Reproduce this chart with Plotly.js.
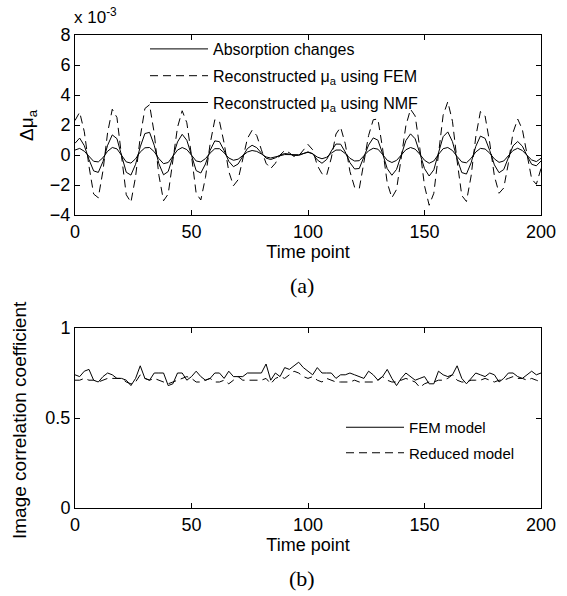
<!DOCTYPE html>
<html>
<head>
<meta charset="utf-8">
<script src="https://cdn.plot.ly/plotly-3.0.1.min.js"></script>
<style>html,body{margin:0;padding:0;background:#fff;}#chart{width:567px;height:596px;}</style>
</head>
<body>
<div id="chart"></div>
<script>
// ---------- data (top panel, units of 1e-3) ----------
var timePoints = [];
for (var i = 0; i <= 200; i += 2) timePoints.push(i);

var absorptionChanges = [0.33,0.44,0.25,-0.12,-0.42,-0.46,-0.18,0.25,0.50,0.41,-0.02,-0.46,-0.54,-0.25,0.20,0.48,0.50,0.22,-0.24,-0.58,-0.50,-0.08,0.33,0.50,0.36,-0.01,-0.40,-0.46,-0.24,0.13,0.42,0.42,0.15,-0.20,-0.35,-0.28,-0.05,0.20,0.30,0.24,0.07,-0.13,-0.20,-0.15,-0.05,0.03,0.03,0.00,0.02,0.10,0.18,0.08,-0.14,-0.25,-0.15,0.12,0.33,0.33,0.10,-0.22,-0.40,-0.38,-0.06,0.28,0.45,0.39,0.04,-0.35,-0.50,-0.36,-0.01,0.35,0.50,0.39,0.05,-0.35,-0.55,-0.40,0.04,0.42,0.50,0.30,-0.10,-0.46,-0.52,-0.22,0.20,0.44,0.40,0.12,-0.26,-0.49,-0.40,-0.08,0.30,0.45,0.30,-0.02,-0.33,-0.44,-0.22];

var reconFEM = [2.30,2.85,1.55,-0.75,-2.60,-2.85,-1.05,1.50,3.05,2.50,-0.10,-2.65,-3.15,-1.45,1.20,3.10,3.35,1.45,-1.35,-3.05,-2.60,-0.45,1.85,2.95,2.15,-0.05,-2.55,-3.00,-1.50,0.75,2.35,2.25,0.80,-1.10,-2.05,-1.65,-0.25,1.10,1.65,1.30,0.35,-0.55,-0.90,-0.55,0.00,0.30,0.15,-0.10,-0.05,0.35,0.70,0.35,-0.70,-1.25,-1.35,-0.20,1.40,1.85,0.75,-1.10,-2.15,-2.25,-0.55,1.30,2.35,2.40,0.45,-1.85,-2.85,-2.30,-0.20,1.95,3.05,2.60,0.45,-2.05,-3.35,-2.55,0.05,2.65,3.55,2.25,-0.40,-2.70,-3.10,-1.40,1.20,2.90,2.60,0.80,-1.40,-2.55,-2.20,-0.55,1.50,2.40,1.70,0.00,-1.60,-1.95,-0.90];

var reconNMF = [0.78,1.13,0.62,-0.30,-1.06,-1.16,-0.44,0.65,1.34,1.09,-0.04,-1.15,-1.34,-0.62,0.54,1.43,1.51,0.65,-0.58,-1.32,-1.10,-0.18,0.87,1.38,0.98,-0.02,-1.04,-1.20,-0.60,0.31,0.94,0.89,0.30,-0.42,-0.78,-0.60,-0.09,0.43,0.65,0.49,0.13,-0.21,-0.30,-0.19,-0.01,0.10,0.06,-0.03,-0.03,0.10,0.21,0.09,-0.33,-0.55,-0.30,0.27,0.73,0.72,0.20,-0.51,-0.93,-0.90,-0.13,0.66,1.14,0.99,0.10,-0.91,-1.35,-0.96,-0.02,0.96,1.41,1.08,0.12,-0.91,-1.40,-0.99,0.14,1.22,1.54,0.89,-0.26,-1.17,-1.27,-0.52,0.57,1.26,1.11,0.30,-0.66,-1.18,-0.97,-0.20,0.61,0.90,0.59,-0.04,-0.62,-0.72,-0.40];

// ---------- data (bottom panel) ----------
var corrFEM = [0.74,0.73,0.76,0.77,0.71,0.70,0.73,0.75,0.74,0.72,0.72,0.71,0.68,0.72,0.79,0.72,0.71,0.75,0.75,0.75,0.68,0.69,0.75,0.75,0.71,0.73,0.76,0.73,0.71,0.72,0.75,0.75,0.72,0.76,0.73,0.73,0.73,0.75,0.75,0.75,0.75,0.80,0.71,0.75,0.73,0.78,0.77,0.79,0.81,0.78,0.76,0.74,0.78,0.75,0.75,0.75,0.72,0.74,0.74,0.75,0.74,0.73,0.72,0.76,0.74,0.71,0.73,0.77,0.72,0.68,0.72,0.75,0.73,0.71,0.72,0.73,0.69,0.69,0.76,0.74,0.73,0.74,0.79,0.72,0.69,0.72,0.75,0.74,0.73,0.75,0.74,0.70,0.72,0.75,0.75,0.73,0.72,0.74,0.76,0.74,0.75];

var corrReduced = [0.71,0.71,0.72,0.71,0.71,0.70,0.71,0.72,0.72,0.72,0.72,0.70,0.69,0.70,0.74,0.72,0.71,0.72,0.71,0.70,0.69,0.70,0.71,0.72,0.73,0.72,0.70,0.70,0.71,0.72,0.70,0.70,0.71,0.69,0.71,0.73,0.71,0.71,0.71,0.71,0.71,0.72,0.69,0.72,0.73,0.72,0.74,0.76,0.75,0.73,0.72,0.73,0.71,0.70,0.72,0.71,0.70,0.70,0.70,0.70,0.71,0.70,0.70,0.70,0.70,0.71,0.73,0.71,0.70,0.70,0.71,0.72,0.71,0.70,0.67,0.69,0.70,0.70,0.71,0.71,0.72,0.74,0.71,0.70,0.70,0.71,0.71,0.71,0.72,0.71,0.70,0.71,0.71,0.72,0.73,0.72,0.72,0.71,0.72,0.71,0.70];

var xTicks = [0, 50, 100, 150, 200];
var yTicksTop = [-4, -2, 0, 2, 4, 6, 8];
var yTicksBottom = [0, 0.5, 1];
var yTickTextBottom = ['0', '0.5', '1'];

var FONT = 'Liberation Sans, Arial, Helvetica, sans-serif';
var SERIF = 'Liberation Serif, Times New Roman, serif';
var DASH = '8px,5px';

var traces = [
  {x: timePoints, y: absorptionChanges, type: 'scatter', mode: 'lines', name: 'Absorption changes',
   line: {color: '#000', width: 1}, xaxis: 'x', yaxis: 'y', legend: 'legend', legendgroup: 'a'},
  {x: timePoints, y: reconFEM, type: 'scatter', mode: 'lines', name: 'Reconstructed μ<sub>a</sub> using FEM',
   line: {color: '#000', width: 1, dash: DASH}, xaxis: 'x', yaxis: 'y', legend: 'legend', legendgroup: 'b'},
  {x: timePoints, y: reconNMF, type: 'scatter', mode: 'lines', name: 'Reconstructed μ<sub>a</sub> using NMF',
   line: {color: '#000', width: 1}, xaxis: 'x', yaxis: 'y', legend: 'legend', legendgroup: 'c'},
  {x: timePoints, y: corrFEM, type: 'scatter', mode: 'lines', name: 'FEM model',
   line: {color: '#000', width: 1}, xaxis: 'x2', yaxis: 'y2', legend: 'legend2', legendgroup: 'd'},
  {x: timePoints, y: corrReduced, type: 'scatter', mode: 'lines', name: 'Reduced model',
   line: {color: '#000', width: 1, dash: DASH}, xaxis: 'x2', yaxis: 'y2', legend: 'legend2', legendgroup: 'e'}
];

function xAxis(anchor) {
  return {
    domain: [75/567, 541/567], range: [0, 200], anchor: anchor,
    tickvals: xTicks, ticks: 'inside', ticklen: 5, tickcolor: '#000',
    showline: true, linecolor: '#000', linewidth: 1, mirror: 'ticks',
    showgrid: false, zeroline: false,
    tickfont: {family: FONT, size: 18, color: '#000'},
    title: {text: 'Time point', font: {family: FONT, size: 18, color: '#000'}, standoff: 3}
  };
}

function yAxis(domain, range, vals, text, anchor) {
  var a = {
    domain: domain, range: range, anchor: anchor,
    tickvals: vals, ticks: 'inside', ticklen: 5, tickcolor: '#000',
    showline: true, linecolor: '#000', linewidth: 1, mirror: 'ticks',
    showgrid: false, zeroline: false,
    tickfont: {family: FONT, size: 18, color: '#000'}
  };
  if (text) a.ticktext = text;
  return a;
}

var layout = {
  width: 567, height: 596,
  margin: {l: 0, r: 0, t: 0, b: 0},
  paper_bgcolor: '#fff', plot_bgcolor: '#fff',
  showlegend: true,
  xaxis: xAxis('y'),
  yaxis: yAxis([1 - 215/596, 1 - 35/596], [-4, 8], yTicksTop, null, 'x'),
  xaxis2: xAxis('y2'),
  yaxis2: yAxis([1 - 508/596, 1 - 328/596], [0, 1], yTicksBottom, yTickTextBottom, 'x2'),
  legend: {
    x: 145/567, y: 1 - 32/596, xanchor: 'left', yanchor: 'top',
    bgcolor: 'rgba(0,0,0,0)', borderwidth: 0,
    font: {family: FONT, size: 16, color: '#000'},
    itemwidth: 58, tracegrouporder: 'normal', tracegroupgap: 3,
    itemclick: false, itemdoubleclick: false
  },
  legend2: {
    x: 341/567, y: 1 - 411/596, xanchor: 'left', yanchor: 'top',
    bgcolor: 'rgba(0,0,0,0)', borderwidth: 0,
    font: {family: FONT, size: 15, color: '#000'},
    itemwidth: 58, tracegrouporder: 'normal', tracegroupgap: 3,
    itemclick: false, itemdoubleclick: false
  },
  annotations: [
    {text: 'x 10<sup>-3</sup>', xref: 'paper', yref: 'paper', x: 72/567, y: 1 - 16/596,
     xanchor: 'left', yanchor: 'middle', showarrow: false, font: {family: FONT, size: 17, color: '#000'}},
    {text: 'Δμ<sub>a</sub>', xref: 'paper', yref: 'paper', x: 28/567, y: 1 - 125/596,
     textangle: -90, xanchor: 'center', yanchor: 'middle', showarrow: false, font: {family: FONT, size: 19, color: '#000'}},
    {text: 'Image correlation coefficient', xref: 'paper', yref: 'paper', x: 19/567, y: 1 - 420/596,
     textangle: -90, xanchor: 'center', yanchor: 'middle', showarrow: false, font: {family: FONT, size: 19, color: '#000'}},
    {text: '(a)', xref: 'paper', yref: 'paper', x: 302/567, y: 1 - 285/596,
     xanchor: 'center', yanchor: 'middle', showarrow: false, font: {family: SERIF, size: 22, color: '#000'}},
    {text: '(b)', xref: 'paper', yref: 'paper', x: 302/567, y: 1 - 578/596,
     xanchor: 'center', yanchor: 'middle', showarrow: false, font: {family: SERIF, size: 22, color: '#000'}}
  ]
};

Plotly.newPlot('chart', traces, layout, {staticPlot: true, displayModeBar: false});
</script>
</body>
</html>
